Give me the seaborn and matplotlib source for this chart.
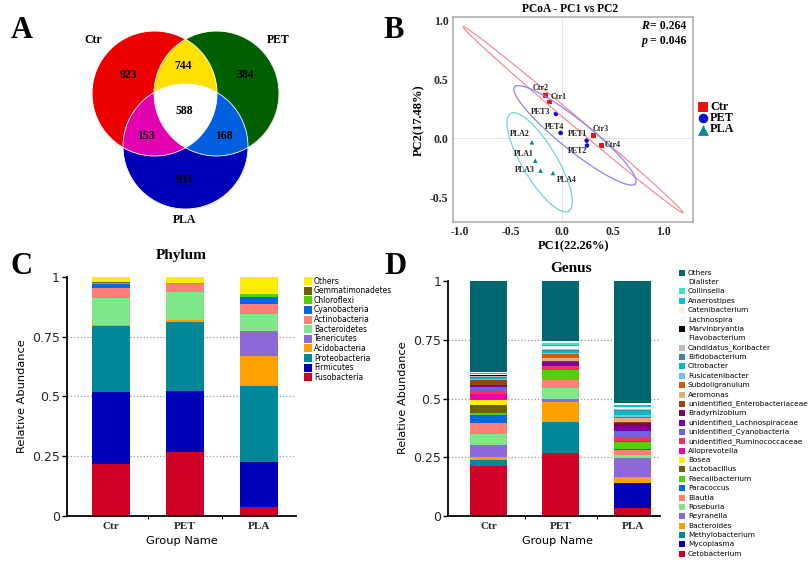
import numpy as np
import pandas as pd
import matplotlib
matplotlib.use("Agg")
import matplotlib.pyplot as plt
from matplotlib.colors import to_rgb
import seaborn as sns

# ---- data ----
groups = ["Ctr", "PET", "PLA"]

venn_names = ["Ctr", "PET", "PLA"]
venn_counts = ["923", "384", "931", "744", "153", "168", "588"]

samples = ["Ctr1", "Ctr2", "Ctr3", "Ctr4", "PET1", "PET2", "PET3", "PET4", "PLA1", "PLA2", "PLA3", "PLA4"]
sample_group = ["Ctr"] * 4 + ["PET"] * 4 + ["PLA"] * 4
pc1 = [-0.118, -0.157, 0.311, 0.390, 0.246, 0.249, -0.056, -0.010, -0.259, -0.292, -0.207, -0.085]
pc2 = [0.309, 0.363, 0.023, -0.060, -0.020, -0.062, 0.207, 0.045, -0.190, -0.034, -0.275, -0.295]

# ellipse: centre, half major vector, half minor vector (data units)
ell_ctr = [(0.112, 0.158), (1.079, -0.790), (0.030, 0.030)]
ell_pet = [(0.131, 0.025), (0.593, -0.411), (0.092, 0.099)]
ell_pla = [(-0.216, -0.204), (0.286, -0.415), (0.146, 0.075)]

phylum_names = ["Others", "Gemmatimonadetes", "Chloroflexi", "Cyanobacteria", "Actinobacteria", "Bacteroidetes",
                "Tenericutes", "Acidobacteria", "Proteobacteria", "Firmicutes", "Fusobacteria"]
phylum_ctr = [0.024, 0.004, 0.004, 0.017, 0.039, 0.112, 0.001, 0.005, 0.275, 0.302, 0.217]
phylum_pet = [0.028, 0.001, 0.003, 0.001, 0.032, 0.118, 0.001, 0.005, 0.288, 0.257, 0.267]
phylum_pla = [0.072, 0.002, 0.011, 0.031, 0.039, 0.072, 0.104, 0.127, 0.316, 0.190, 0.036]
phylum_colors = ["#ffee00", "#706000", "#58d000", "#0068e0", "#ff8078", "#80e888",
                 "#8c68d8", "#ffa000", "#008898", "#0000b8", "#d00028"]

genus_names = ["Others", "Dialister", "Collinsella", "Anaerostipes", "Catenibacterium", "Lachnospira",
               "Marvinbryantia", "Flavobacterium", "Candidatus_Koribacter", "Bifidobacterium", "Citrobacter",
               "Fusicatenibacter", "Subdoligranulum", "Aeromonas", "unidentified_Enterobacteriaceae",
               "Bradyrhizobium", "unidentified_Lachnospiraceae", "unidentified_Cyanobacteria",
               "unidentified_Ruminococcaceae", "Alloprevotella", "Bosea", "Lactobacillus", "Faecalibacterium",
               "Paracoccus", "Blautia", "Roseburia", "Reyranella", "Bacteroides", "Methylobacterium",
               "Mycoplasma", "Cetobacterium"]
genus_ctr = [0.388, 0.002, 0.002, 0.004, 0.001, 0.002, 0.004, 0.002, 0.002, 0.003, 0.007, 0.002, 0.002, 0.001,
             0.020, 0.005, 0.005, 0.016, 0.013, 0.023, 0.025, 0.034, 0.005, 0.037, 0.047, 0.047, 0.048, 0.016,
             0.023, 0.001, 0.213]
genus_pet = [0.256, 0.009, 0.005, 0.005, 0.002, 0.006, 0.000, 0.006, 0.002, 0.006, 0.007, 0.007, 0.014, 0.016,
             0.001, 0.002, 0.018, 0.001, 0.014, 0.001, 0.000, 0.001, 0.040, 0.001, 0.033, 0.048, 0.013, 0.085,
             0.134, 0.000, 0.267]
genus_pla = [0.519, 0.008, 0.002, 0.005, 0.002, 0.004, 0.000, 0.005, 0.002, 0.004, 0.020, 0.006, 0.007, 0.016,
             0.002, 0.018, 0.018, 0.024, 0.018, 0.001, 0.000, 0.003, 0.030, 0.003, 0.023, 0.014, 0.080, 0.024,
             0.003, 0.105, 0.034]
genus_colors = ["#00666f", "#f4fbfb", "#3de0c0", "#00c0e8", "#fdeed8", "#f2fbfb", "#000000", "#f2fbfb", "#bbbbbb",
                "#3a8a9a", "#00bcc4", "#70c0f0", "#d85a00", "#dcb080", "#a04010", "#800060", "#8000a8", "#7060e0",
                "#f8305f", "#f000b0", "#fff000", "#706000", "#58d000", "#0068e0", "#ff8078", "#80e888", "#8c68d8",
                "#ffa000", "#008898", "#0000b8", "#d00028"]

# ---- setup ----
W, H = 812, 564
sns.set_theme(style="white")
plt.rcParams["font.family"] = ["DejaVu Sans"]
SERIF = "Liberation Serif"

fig = plt.figure(figsize=(W / 100, H / 100), dpi=100, facecolor="white")


def px_axes(left, top, right, bottom):
    return fig.add_axes([left / W, 1 - bottom / H, (right - left) / W, (bottom - top) / H])


# ---- A: venn ----
ax_a = px_axes(85, 25, 285, 215)
ax_a.axis("off")
R = 62.5
centers = [(154.5, 93.5), (216.5, 93.5), (185.5, 146.5)]
gx, gy = np.meshgrid(np.arange(85, 285, 0.25), np.arange(25, 215, 0.25))
m_c, m_p, m_l = [(gx - c[0]) ** 2 + (gy - c[1]) ** 2 <= R ** 2 for c in centers]
img = np.ones(gx.shape + (3,))
img[m_c] = to_rgb("#ee0000")
img[m_p] = to_rgb("#006000")
img[m_l] = to_rgb("#0000b8")
img[m_c & m_p] = to_rgb("#ffe000")
img[m_c & m_l] = to_rgb("#e000b0")
img[m_p & m_l] = to_rgb("#0060e0")
img[m_c & m_p & m_l] = (1, 1, 1)
ax_a.imshow(img, extent=(85, 285, 215, 25), aspect="auto", interpolation="antialiased")
for c in centers:
    ax_a.add_patch(plt.Circle(c, R, fill=False, ec="white", lw=0.6))
ax_a.set_xlim(85, 285)
ax_a.set_ylim(215, 25)

# ---- B: PCoA ----
ax_b = px_axes(452.7, 17.3, 693, 221.7)
pcoa = pd.DataFrame({"pc1": pc1, "pc2": pc2, "group": sample_group})
ax_b.axhline(0, color="#e6e6e6", lw=0.7, zorder=0)
ax_b.axvline(0, color="#e6e6e6", lw=0.7, zorder=0)
t = np.linspace(0, 2 * np.pi, 240)
for ell, col in zip([ell_ctr, ell_pet, ell_pla], ["#f58d9c", "#8a86ee", "#77d2d2"]):
    c, u, v = [np.array(p) for p in ell]
    ax_b.plot(c[0] + u[0] * np.cos(t) + v[0] * np.sin(t), c[1] + u[1] * np.cos(t) + v[1] * np.sin(t), color=col, lw=0.9)
sns.scatterplot(data=pcoa, x="pc1", y="pc2", hue="group", style="group", ax=ax_b, legend=False,
                palette={"Ctr": "#ee1111", "PET": "#1111cc", "PLA": "#008a94"},
                markers={"Ctr": "s", "PET": "o", "PLA": "^"}, s=11, linewidth=0)
ax_b.set_xlim(-1.07, 1.29)
ax_b.set_ylim(-0.709, 1.028)
ax_b.set_xticks([-1, -0.5, 0, 0.5, 1])
ax_b.set_yticks([-0.5, 0, 0.5, 1])
ax_b.set_xticklabels(["-1.0", "-0.5", "0.0", "0.5", "1.0"], family=SERIF, weight="bold", size=8.5)
ax_b.set_yticklabels(["-0.5", "0.0", "0.5", "1.0"], family=SERIF, weight="bold", size=8.5)
ax_b.tick_params(length=0, pad=3)
ax_b.set_xlabel("")
ax_b.set_ylabel("")
for s in ax_b.spines.values():
    s.set_color("#a8a8a8")
    s.set_linewidth(1.1)


# ---- C / D: stacked bars ----
def stacked(ax, names, series, colors, xlim, width):
    df = pd.DataFrame({"taxon": names * 3,
                       "group": sum([[g] * len(names) for g in groups], []),
                       "value": sum(series, [])})
    ax.hlines([0.25, 0.5, 0.75], xlim[0], xlim[1], colors="#999999", linestyles=":", lw=0.9, zorder=0.5)
    sns.histplot(data=df, x="group", hue="taxon", weights="value", hue_order=names, multiple="stack",
                 palette=colors, discrete=True, shrink=width, alpha=1, linewidth=0, legend=False, ax=ax)
    ax.set_xlim(*xlim)
    ax.set_ylim(0, 1)
    ax.set_yticks([0, 0.25, 0.5, 0.75, 1])
    ax.set_yticklabels(["0", "0.25", "0.5", "0.75", "1"], size=9)
    ax.set_xticks([0, 1, 2])
    ax.set_xticklabels(groups, family=SERIF, weight="bold", size=8)
    ax.set_xticks([0.5, 1.5], minor=True)
    ax.tick_params(axis="x", which="major", length=0, pad=4)
    ax.tick_params(axis="x", which="minor", length=2, width=0.8, color="black", bottom=True)
    ax.tick_params(axis="y", length=3.5, width=1, color="black", left=True, pad=1.5)
    ax.set_xlabel("")
    ax.set_ylabel("")
    sns.despine(ax=ax)
    for side in ["left", "bottom"]:
        ax.spines[side].set_color("black")
        ax.spines[side].set_linewidth(1.3)
    ax.patch.set_alpha(0)


ax_c = px_axes(66.7, 276.7, 296, 516)
stacked(ax_c, phylum_names, [phylum_ctr, phylum_pet, phylum_pla], phylum_colors, (-0.6, 2.5), 0.507)
ax_d = px_axes(448.3, 281.3, 660, 516)
stacked(ax_d, genus_names, [genus_ctr, genus_pet, genus_pla], genus_colors, (-0.561, 2.38), 0.507)

# ---- overlay in pixel coordinates: text and legends ----
ov = fig.add_axes([0, 0, 1, 1], zorder=10)
ov.set_xlim(0, W)
ov.set_ylim(H, 0)
ov.axis("off")


def label(x, y, s, size, ha="center", family=SERIF, weight="bold", color="black", **kw):
    ov.text(x, y, s, size=size, ha=ha, va="center", family=family, weight=weight, color=color, **kw)


for letter, x, y in [("A", 22, 31), ("B", 394, 31), ("C", 22, 266), ("D", 396, 266)]:
    label(x, y, letter, 22)

# venn text
for name, x, y in zip(venn_names, [93, 278, 185], [40, 40, 220]):
    label(x, y, name, 8.5)
for n, x, y in zip(venn_counts, [128, 245, 184, 183, 146, 224, 184], [75, 75, 180, 66, 136, 136, 111]):
    label(x, y, n, 8.5)

# pcoa text
label(570, 9, "PCoA - PC1 vs PC2", 8.3)
label(574, 246, "PC1(22.26%)", 9)
label(419, 120, "PC2(17.48%)", 9, rotation=90)
label(644.5, 26, "R", 8.5, style="italic")
label(650, 26, "= 0.264", 8.5, ha="left")
label(644.5, 40.7, "p", 8.5, style="italic")
label(650, 40.7, "= 0.046", 8.5, ha="left")
label_x = [559, 541, 601, 613, 578, 578, 541, 555, 524, 520, 525, 567]
label_y = [97, 88, 129, 145, 134, 151, 112, 127, 154, 134, 170, 180]
for s, x, y in zip(samples, label_x, label_y):
    label(x, y, s, 5.8, color="#222222")

# pcoa legend
ov.scatter([703], [107], marker="s", s=48, color="#ee1111", linewidth=0)
ov.scatter([703], [118], marker="o", s=48, color="#1111cc", linewidth=0)
ov.scatter([703], [129.5], marker="^", s=60, color="#008a94", linewidth=0)
for i, g in enumerate(groups):
    label(710, 107 + i * 11.2, g, 8.8, ha="left")

# bar panel text
label(181, 256, "Phylum", 11)
label(571, 268, "Genus", 11)
label(22, 396, "Relative Abundance", 8.2, family="DejaVu Sans", weight="normal", rotation=90)
label(182, 540.5, "Group Name", 8.2, family="DejaVu Sans", weight="normal")
label(403, 398, "Relative Abundance", 8.1, family="DejaVu Sans", weight="normal", rotation=90)
label(558, 541, "Group Name", 8.1, family="DejaVu Sans", weight="normal")

# bar panel legends
for i, (n, c) in enumerate(zip(phylum_names, phylum_colors)):
    y = 281 + i * 9.63
    ov.scatter([308], [y], marker="s", s=26, color=c, linewidth=0)
    label(314, y, n, 5.5, ha="left", family="DejaVu Sans", weight="normal")
for i, (n, c) in enumerate(zip(genus_names, genus_colors)):
    y = 272.7 + i * 9.37
    ov.scatter([682.5], [y], marker="s", s=24, color=c, linewidth=0)
    label(688, y, n, 5.3, ha="left", family="DejaVu Sans", weight="normal")

fig.savefig("out.png", dpi=100)
